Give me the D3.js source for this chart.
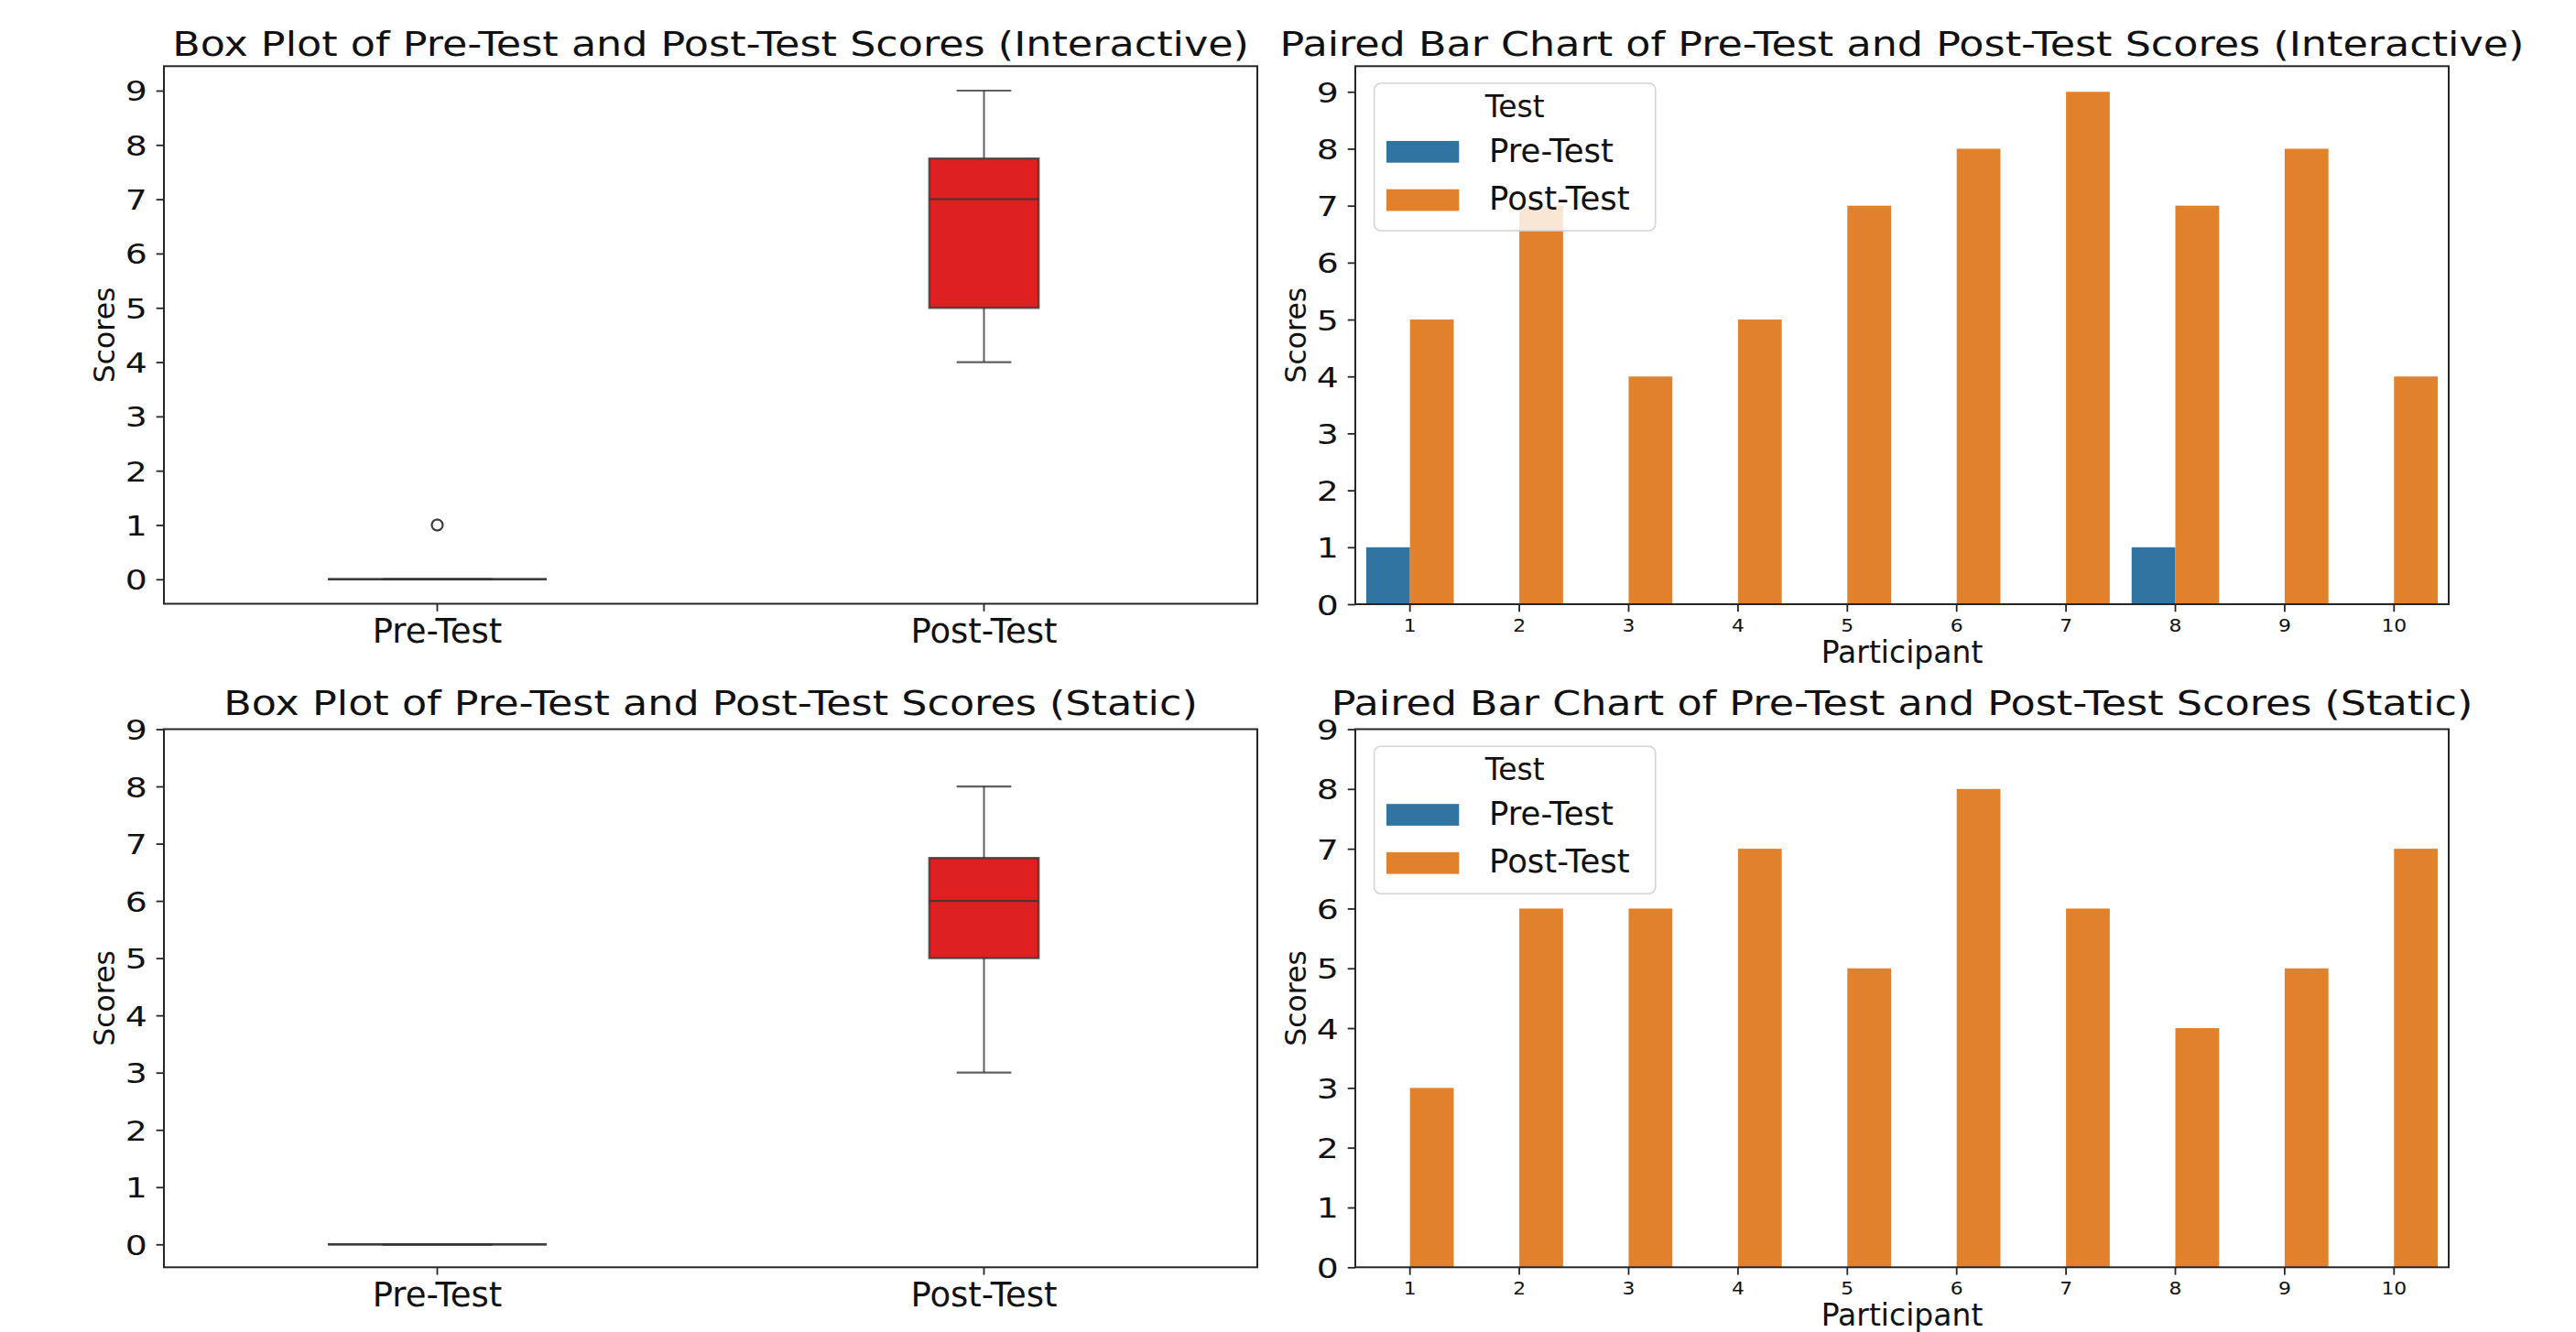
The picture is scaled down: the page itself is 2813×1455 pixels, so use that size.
<!DOCTYPE html>
<html>
<head>
<meta charset="utf-8">
<script src="https://cdn.jsdelivr.net/npm/d3@7"></script>
<style>
  html, body { margin: 0; padding: 0; background: #fff; }
  svg { display: block; font-family: "DejaVu Sans", sans-serif; }
</style>
</head>
<body>
<svg id="chart" width="2813" height="1455"></svg>
<script>
// Scores per participant, for the interactive and the static condition
const participants = [1, 2, 3, 4, 5, 6, 7, 8, 9, 10];
const testLabels = ["Pre-Test", "Post-Test"];
const preInteractive = [1, 0, 0, 0, 0, 0, 0, 1, 0, 0];
const postInteractive = [5, 7, 4, 5, 7, 8, 9, 7, 8, 4];
const preStatic = [0, 0, 0, 0, 0, 0, 0, 0, 0, 0];
const postStatic = [3, 6, 6, 7, 5, 8, 6, 4, 5, 7];
const scoreTicks = [0, 1, 2, 3, 4, 5, 6, 7, 8, 9];

// Styling
const FONT = '"DejaVu Sans", sans-serif';
const seriesColors = { "Pre-Test": "#3274a1", "Post-Test": "#e1812c" };
const boxFill = "#df2020";
const lineGray = "#333333";
const lineOpacity = 0.78;
const spineColor = "#262626";
const textColor = "#111";
const boxWidthFrac = { "Pre-Test": 0.4, "Post-Test": 0.2 };

const svg = d3.select("#chart");
svg.append("rect").attr("width", 2813).attr("height", 1455).attr("fill", "#fff");

// Panel layout
const panels = [
  { kind: "box", x0: 179, x1: 1373, y0: 72.3, y1: 659.5, yDomain: [-0.45, 9.45], titleY: 60.5,
    title: "Box Plot of Pre-Test and Post-Test Scores (Interactive)", pre: preInteractive, post: postInteractive },
  { kind: "bar", x0: 1480, x1: 2674, y0: 72.3, y1: 660, yDomain: [0, 9.45], titleY: 60.5,
    title: "Paired Bar Chart of Pre-Test and Post-Test Scores (Interactive)", pre: preInteractive, post: postInteractive },
  { kind: "box", x0: 179, x1: 1373, y0: 796.5, y1: 1384.3, yDomain: [-0.4, 9], titleY: 781,
    title: "Box Plot of Pre-Test and Post-Test Scores (Static)", pre: preStatic, post: postStatic },
  { kind: "bar", x0: 1480, x1: 2674, y0: 796.5, y1: 1384.3, yDomain: [0, 9], titleY: 781,
    title: "Paired Bar Chart of Pre-Test and Post-Test Scores (Static)", pre: preStatic, post: postStatic }
];

function styleAxis(ax) {
  ax.attr("font-family", null).attr("font-size", null);
  ax.select(".domain").remove();
  ax.selectAll(".tick line").attr("stroke", spineColor).attr("stroke-width", 1.8);
  ax.selectAll(".tick text").attr("fill", textColor).attr("font-family", FONT)
    .attr("x", null).attr("y", null).attr("dy", null);
}

function drawYAxis(g, p, y) {
  const ax = g.append("g").attr("transform", `translate(${p.x0},0)`)
    .call(d3.axisLeft(y).tickValues(scoreTicks).tickSize(8.3).tickFormat(d3.format("d")));
  styleAxis(ax);
  ax.selectAll(".tick text").attr("font-size", 30).attr("text-anchor", "end")
    .attr("transform", "translate(-18.3,11) scale(1.26,1)");
  const xLab = p.x0 - 54;
  g.append("text")
    .attr("transform", `translate(${xLab},${(p.y0 + p.y1) / 2}) rotate(-90)`)
    .attr("text-anchor", "middle").attr("font-size", 31.5).attr("fill", textColor)
    .text("Scores");
}

function drawTitle(g, p) {
  g.append("text")
    .attr("transform", `translate(${(p.x0 + p.x1) / 2},${p.titleY}) scale(1.185,1)`)
    .attr("text-anchor", "middle").attr("font-size", 37.5).attr("fill", textColor)
    .text(p.title);
}

function drawFrame(g, p) {
  g.append("rect").attr("x", p.x0).attr("y", p.y0)
    .attr("width", p.x1 - p.x0).attr("height", p.y1 - p.y0)
    .attr("fill", "none").attr("stroke", spineColor).attr("stroke-width", 2);
}

function boxStats(values) {
  const s = values.slice().sort(d3.ascending);
  const q1 = d3.quantile(s, 0.25), med = d3.quantile(s, 0.5), q3 = d3.quantile(s, 0.75);
  const iqr = q3 - q1;
  const lo = d3.min(s.filter(v => v >= q1 - 1.5 * iqr));
  const hi = d3.max(s.filter(v => v <= q3 + 1.5 * iqr));
  const fliers = s.filter(v => v < lo || v > hi);
  return { q1, med, q3, lo, hi, fliers };
}

function strokeLine(sel, w) {
  return sel.attr("stroke", lineGray).attr("stroke-opacity", lineOpacity).attr("stroke-width", w);
}

function drawBoxPanel(g, p) {
  const x = d3.scaleBand().domain(testLabels).range([p.x0, p.x1]).paddingInner(0).paddingOuter(0);
  const y = d3.scaleLinear().domain(p.yDomain).range([p.y1, p.y0]);
  const groups = { "Pre-Test": p.pre, "Post-Test": p.post };

  testLabels.forEach(label => {
    const st = boxStats(groups[label]);
    const cx = x(label) + x.bandwidth() / 2;
    const hw = x.bandwidth() * boxWidthFrac[label] / 2;
    const bg = g.append("g");
    // whiskers
    strokeLine(bg.append("line").attr("x1", cx).attr("x2", cx).attr("y1", y(st.q1)).attr("y2", y(st.lo)), 2);
    strokeLine(bg.append("line").attr("x1", cx).attr("x2", cx).attr("y1", y(st.q3)).attr("y2", y(st.hi)), 2);
    // caps
    [st.lo, st.hi].forEach(v => {
      strokeLine(bg.append("line").attr("x1", cx - hw / 2).attr("x2", cx + hw / 2)
        .attr("y1", y(v)).attr("y2", y(v)), 2.2);
    });
    // box
    strokeLine(bg.append("path")
      .attr("d", `M${cx - hw},${y(st.q3)}H${cx + hw}V${y(st.q1)}H${cx - hw}Z`)
      .attr("fill", boxFill).attr("stroke-linejoin", "miter"), 2.4);
    // median
    strokeLine(bg.append("line").attr("x1", cx - hw).attr("x2", cx + hw)
      .attr("y1", y(st.med)).attr("y2", y(st.med)), 2.4);
    // outliers
    strokeLine(bg.selectAll("circle.flier").data(st.fliers).join("circle").attr("class", "flier")
      .attr("cx", cx).attr("cy", d => y(d)).attr("r", 6).attr("fill", "none"), 1.9);
  });

  drawFrame(g, p);
  drawYAxis(g, p, y);
  const ax = g.append("g").attr("transform", `translate(0,${p.y1})`)
    .call(d3.axisBottom(x).tickSize(8.3));
  styleAxis(ax);
  ax.selectAll(".tick text").attr("font-size", 37).attr("text-anchor", "middle").attr("y", 42.5);
  drawTitle(g, p);
}

function drawBarPanel(g, p) {
  const x = d3.scaleBand().domain(participants).range([p.x0, p.x1]).paddingInner(0).paddingOuter(0);
  const y = d3.scaleLinear().domain(p.yDomain).range([p.y1, p.y0]);
  const bw = x.bandwidth() * 0.4;
  const rows = [];
  participants.forEach((d, i) => {
    rows.push({ participant: d, test: "Pre-Test", value: p.pre[i], offset: -1 });
    rows.push({ participant: d, test: "Post-Test", value: p.post[i], offset: 0 });
  });
  g.append("g").selectAll("rect").data(rows.filter(r => r.value > 0)).join("rect")
    .attr("x", r => x(r.participant) + x.bandwidth() / 2 + r.offset * bw)
    .attr("width", bw)
    .attr("y", r => y(r.value))
    .attr("height", r => y(0) - y(r.value))
    .attr("fill", r => seriesColors[r.test]);

  drawFrame(g, p);
  drawYAxis(g, p, y);
  const ax = g.append("g").attr("transform", `translate(0,${p.y1})`)
    .call(d3.axisBottom(x).tickSize(8.3));
  styleAxis(ax);
  ax.selectAll(".tick text").attr("font-size", 19).attr("text-anchor", "middle")
    .attr("transform", "translate(0,30) scale(1.15,1)");
  g.append("text").attr("x", (p.x0 + p.x1) / 2).attr("y", p.y1 + 64)
    .attr("text-anchor", "middle").attr("font-size", 33).attr("fill", textColor)
    .text("Participant");

  // legend
  const lg = g.append("g").attr("transform", `translate(${p.x0 + 20.7},${p.y0 + 18.7})`);
  const lw = 307, lh = 161;
  lg.append("rect").attr("width", lw).attr("height", lh).attr("rx", 7)
    .attr("fill", "#fff").attr("fill-opacity", 0.8)
    .attr("stroke", "#d4d4d4").attr("stroke-width", 1.6);
  lg.append("text").attr("x", lw / 2).attr("y", 36.7).attr("text-anchor", "middle")
    .attr("font-size", 33).attr("fill", textColor).text("Test");
  testLabels.forEach((t, i) => {
    const top = 63 + i * 52.7;
    lg.append("rect").attr("x", 13.3).attr("y", top).attr("width", 79.3).attr("height", 23.7)
      .attr("fill", seriesColors[t]);
    lg.append("text").attr("x", 125.3).attr("y", top + 22.5)
      .attr("font-size", 35.5).attr("fill", textColor).text(t);
  });

  drawTitle(g, p);
}

panels.forEach(p => {
  const g = svg.append("g");
  if (p.kind === "box") drawBoxPanel(g, p); else drawBarPanel(g, p);
});
</script>
</body>
</html>
